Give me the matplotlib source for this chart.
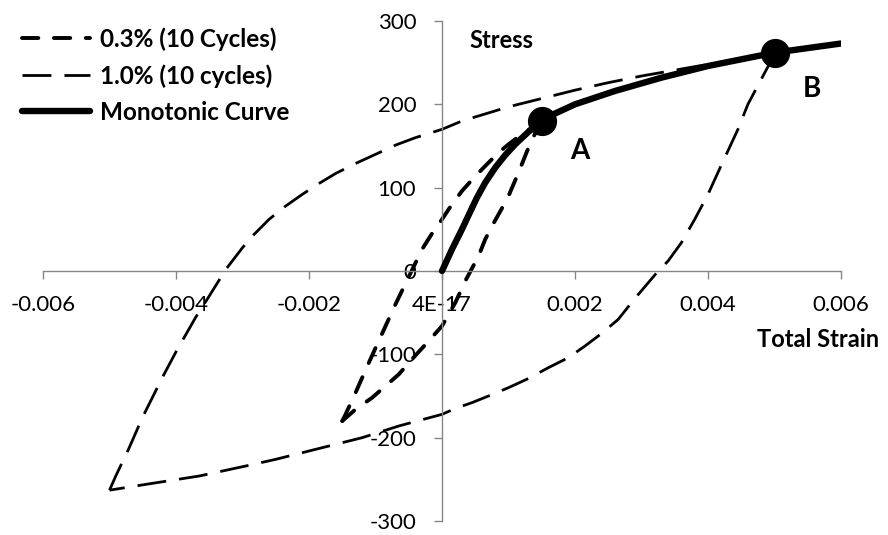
import matplotlib
matplotlib.use("Agg")
import matplotlib.pyplot as plt

plt.rcParams['font.family'] = ['Lato', 'DejaVu Sans']

# 0.3% strain amplitude loop (10 cycles)
small_up_strain = [-0.0015, -0.00145, -0.0013, -0.0011, -0.0009, -0.0007, -0.00047,
                   -0.0003, -0.00015, 0.0, 0.00015, 0.0003, 0.00048, 0.00065,
                   0.00085, 0.001, 0.0012, 0.0015]
small_up_stress = [-180, -172, -146, -110, -75, -40, -2, 26, 45, 62, 80, 96, 112, 126,
                   142, 152, 164, 180]
small_dn_strain = [0.0015, 0.0014, 0.00128, 0.00115, 0.001, 0.0009, 0.00078, 0.00065,
                   0.00055, 0.00035, 0.0002, 0.0001, 0.0, -0.0002, -0.00043, -0.00065,
                   -0.00085, -0.00105, -0.0013, -0.0015]
small_dn_stress = [180, 165, 144, 118, 90, 75, 58, 38, 18, -12, -38, -52, -66, -84,
                   -104, -124, -138, -152, -166, -180]

# 1.0% strain amplitude loop (10 cycles)
big_up_strain = [-0.005, -0.0049, -0.00472, -0.0045, -0.0042, -0.004, -0.0037, -0.0035,
                 -0.00325, -0.003, -0.00285, -0.0026, -0.00235, -0.0021, -0.00185,
                 -0.0016, -0.0013, -0.001, -0.0007, -0.0004, 0.0, 0.0003, 0.001,
                 0.0015, 0.002, 0.0025, 0.003, 0.0035, 0.004, 0.0045, 0.005]
big_up_stress = [-263, -245, -215, -175, -127, -97, -55, -30, 2, 28, 42, 62, 78, 92,
                 105, 117, 129, 140, 151, 160, 170, 180, 197, 207, 217, 226, 234, 241,
                 248, 255, 262]
big_dn_strain = [0.005, 0.0049, 0.0048, 0.0046, 0.00445, 0.0042, 0.004, 0.0038, 0.0036,
                 0.0034, 0.00323, 0.0029, 0.00265, 0.0024, 0.00215, 0.0019, 0.0016,
                 0.0013, 0.001, 0.0007, 0.00045, 0.0002, 0.0, -0.00065, -0.0012,
                 -0.002, -0.0025, -0.00295, -0.00365, -0.00445, -0.005]
big_dn_stress = [262, 245, 230, 200, 170, 127, 92, 62, 34, 12, -2, -33, -58, -75, -90,
                 -104, -116, -129, -140, -150, -158, -165, -172, -186, -200, -216, -226,
                 -234, -246, -256, -263]

# monotonic curve
mono_strain = [0.0, 0.00015, 0.0003, 0.0004, 0.000525, 0.00065, 0.0008, 0.00095,
               0.0011, 0.0013, 0.0015, 0.0017, 0.002, 0.0026, 0.0033, 0.004, 0.0045,
               0.005, 0.006]
mono_stress = [0, 26, 50, 67, 88, 106, 124, 139, 152, 167, 180, 189, 200, 216, 232,
               246, 254, 262, 273]

point_strain = [0.0015, 0.005]
point_stress = [180, 262]
point_names = ['A', 'B']
point_label_pos = [(0.00207, 144), (0.00556, 218)]

xticks = [-0.006, -0.004, -0.002, 0.0, 0.002, 0.004, 0.006]
xticklabels = ['-0.006', '-0.004', '-0.002', '4E-17', '0.002', '0.004', '0.006']
yticks = [-300, -200, -100, 0, 100, 200, 300]
yticklabels = ['-300', '-200', '-100', '0', '100', '200', '300']

fig = plt.figure(figsize=(8.88, 5.35), dpi=100)
ax = fig.add_axes([43 / 888, 1 - 521 / 535, 798 / 888, 500 / 535])

small_style = dict(color='black', lw=2.8, dashes=(4.2, 4.0), dash_capstyle='round',
                   solid_joinstyle='round', dash_joinstyle='round')
big_style = dict(color='black', lw=2.0, dashes=(10.4, 4.7), dash_capstyle='butt',
                 dash_joinstyle='round')

l1, = ax.plot(small_up_strain, small_up_stress, label='0.3% (10 Cycles)', **small_style)
ax.plot(small_dn_strain, small_dn_stress, **small_style)
l2, = ax.plot(big_up_strain, big_up_stress, label='1.0% (10 cycles)', **big_style)
ax.plot(big_dn_strain, big_dn_stress, **big_style)
l3, = ax.plot(mono_strain, mono_stress, color='black', lw=4.6,
              solid_capstyle='round', solid_joinstyle='round',
              label='Monotonic Curve', zorder=3)
ax.plot(point_strain, point_stress, 'o', color='black', ms=20, zorder=4)
for name, (px, py) in zip(point_names, point_label_pos):
    ax.text(px, py, name, fontsize=20, fontweight='bold', ha='center', va='center')

ax.set_xlim(-0.006, 0.006)
ax.set_ylim(-300, 300)
ax.set_xticks(xticks)
ax.set_xticklabels(xticklabels)
ax.set_yticks(yticks)
ax.set_yticklabels(yticklabels)

for side in ['top', 'right']:
    ax.spines[side].set_visible(False)
for side in ['left', 'bottom']:
    ax.spines[side].set_position(('data', 0))
    ax.spines[side].set_color('#868686')
    ax.spines[side].set_linewidth(1.0)
ax.tick_params(axis='both', direction='out', length=5.5, width=1.0,
               color='#868686', labelsize=16, labelcolor='black')
ax.tick_params(axis='x', pad=12)
ax.tick_params(axis='y', pad=13)
ax.patch.set_visible(False)

ax.text(0.00089, 276, 'Stress', fontsize=17, fontweight='bold', ha='center', va='center')
ax.text(0.00566, -82, 'Total Strain', fontsize=17, fontweight='bold',
        ha='center', va='center', clip_on=False)

fig.legend(handles=[l1, l2, l3], loc='upper left', bbox_to_anchor=(22 / 888, 1 - 27 / 535),
           frameon=False, borderpad=0, borderaxespad=0, handlelength=2.8,
           handletextpad=0.4, labelspacing=0.55,
           prop={'size': 17.5, 'weight': 'bold'})

fig.savefig('out.png', dpi=100)
